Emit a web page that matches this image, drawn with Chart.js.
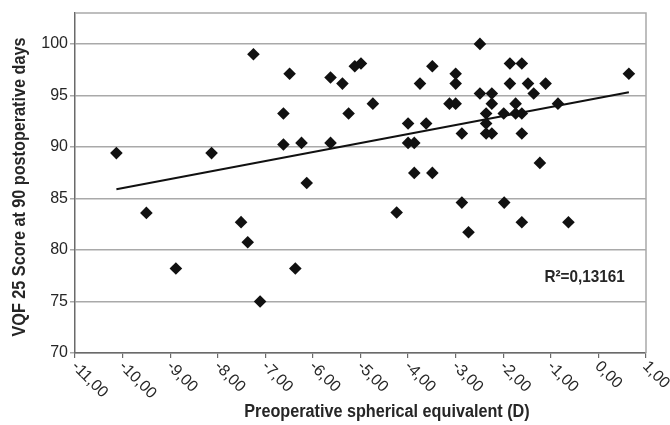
<!DOCTYPE html>
<html>
<head>
<meta charset="utf-8">
<script src="https://cdn.jsdelivr.net/npm/chart.js@4/dist/chart.umd.min.js"></script>
<style>
  html, body { margin: 0; padding: 0; background: #fff; }
  #wrap { width: 670px; height: 425px; }
</style>
</head>
<body>
<div id="wrap"><canvas id="chart"></canvas></div>
<script>
const preopSE = [
    -10.13, -9.5, -8.88, -8.13, -7.51, -7.37, -7.25, -7.11, -6.62, -6.62,
    -6.49, -6.37, -6.24, -6.13, -5.63, -5.63, -5.38, -5.25, -5.12, -4.99,
    -4.74, -4.24, -4.0, -4.0, -3.87, -3.87, -3.75, -3.62, -3.49, -3.49,
    -3.13, -3.0, -3.0, -3.0, -2.87, -2.87, -2.73, -2.49, -2.49, -2.36,
    -2.36, -2.36, -2.24, -2.24, -2.24, -1.99, -1.98, -1.86, -1.86, -1.74,
    -1.74, -1.61, -1.61, -1.61, -1.61, -1.48, -1.36, -1.23, -1.11, -0.85,
    -0.63, 0.64,
];
const vqfScore = [
    89.4, 83.6, 78.2, 89.4, 82.7, 80.75, 99.0, 75.0, 93.24, 90.23,
    97.1, 78.2, 90.39, 86.5, 96.74, 90.39, 96.15, 93.24, 97.83, 98.1,
    94.2, 83.63, 92.27, 90.39, 90.39, 87.48, 96.15, 92.27, 97.83, 87.48,
    94.2, 97.1, 96.15, 94.2, 91.3, 84.6, 81.72, 100.0, 95.18, 93.24,
    92.27, 91.3, 95.18, 94.2, 91.3, 93.24, 84.6, 98.1, 96.15, 94.2,
    93.24, 98.1, 93.24, 91.3, 82.69, 96.15, 95.18, 88.45, 96.15, 94.2,
    82.69, 97.1,
];

// trendline end points as drawn
const trendX = [-10.13, 0.64];
const trendY = [85.9, 95.3];

const xTicks = [-11, -10, -9, -8, -7, -6, -5, -4, -3, -2, -1, 0, 1];
const yTicks = [70, 75, 80, 85, 90, 95, 100];

const xTitle = 'Preoperative spherical equivalent (D)';
const yTitle = 'VQF 25 Score at 90 postoperative days';
const rSquared = 'R²=0,13161';

const PLAIN = '"Liberation Sans", Arial, sans-serif';
const TEXT = '#262626';
const GRID = '#a9a9a9';
const AXIS = '#6a6a6a';
const SQUEEZE = 0.9; // no narrow face installed, so squeeze the bold one

const fmt = (v) => v.toFixed(2).replace('.', ',');

function narrowText(ctx, text, x, y, angle) {
    ctx.save();
    ctx.translate(x, y);
    ctx.rotate(angle);
    ctx.scale(SQUEEZE, 1);
    ctx.fillText(text, 0, 0);
    ctx.restore();
}

const extras = {
    id: 'extras',
    afterDraw(chart) {
        const { ctx, chartArea: a, scales } = chart;
        const x = scales.x, y = scales.y;
        ctx.save();

        // top + right frame of the plot area
        ctx.strokeStyle = GRID;
        ctx.lineWidth = 1.5;
        ctx.beginPath();
        ctx.moveTo(a.left, a.top);
        ctx.lineTo(a.right, a.top);
        ctx.lineTo(a.right, a.bottom);
        ctx.stroke();

        // slanted x tick labels, starting at the tick and running down-right
        ctx.fillStyle = TEXT;
        ctx.font = '16px ' + PLAIN;
        ctx.textAlign = 'left';
        ctx.textBaseline = 'middle';
        x.ticks.forEach((t) => {
            const px = x.getPixelForValue(t.value);
            ctx.save();
            ctx.translate(px - 1, x.top + 11);
            ctx.rotate(Math.PI / 4);
            ctx.fillText(fmt(t.value), 0, 0);
            ctx.restore();
        });

        // axis titles
        ctx.font = 'bold 18px ' + PLAIN;
        ctx.textAlign = 'center';
        narrowText(ctx, xTitle, 387, 412, 0);
        narrowText(ctx, yTitle, 20, (a.top + a.bottom) / 2 + 4, -Math.PI / 2);

        // R² label
        ctx.font = 'bold 17px ' + PLAIN;
        narrowText(ctx, rSquared, x.getPixelForValue(-0.29), y.getPixelForValue(77.3), 0);
        ctx.restore();
    },
};

new Chart(document.getElementById('chart'), {
    type: 'scatter',
    data: {
        datasets: [
            {
                label: 'VQF 25',
                data: preopSE.map((v, i) => ({ x: v, y: vqfScore[i] })),
                pointStyle: 'rectRot',
                pointRadius: 6.3,
                backgroundColor: '#111',
                borderWidth: 0,
            },
            {
                label: 'Trend',
                type: 'line',
                data: trendX.map((v, i) => ({ x: v, y: trendY[i] })),
                borderColor: '#111',
                borderWidth: 2,
                pointRadius: 0,
                fill: false,
            },
        ],
    },
    options: {
        responsive: true,
        maintainAspectRatio: false,
        animation: false,
        layout: { padding: { top: 13, right: 24, left: 0, bottom: 0 } },
        plugins: { legend: { display: false }, tooltip: { enabled: false } },
        scales: {
            x: {
                type: 'linear',
                min: -11,
                max: 1,
                afterBuildTicks: (s) => { s.ticks = xTicks.map((v) => ({ value: v })); },
                afterFit: (s) => { s.height = 72; },
                ticks: { display: false },
                grid: { drawOnChartArea: false, drawTicks: true, tickLength: 5, color: AXIS, lineWidth: 1.2 },
                border: { color: AXIS, width: 1.5 },
            },
            y: {
                min: 70,
                max: 103,
                afterBuildTicks: (s) => { s.ticks = yTicks.map((v) => ({ value: v })); },
                afterFit: (s) => { s.width = 75; },
                ticks: { color: TEXT, font: { size: 16, family: PLAIN }, padding: 2 },
                grid: { color: GRID, lineWidth: 1.5, tickLength: 5 },
                border: { color: AXIS, width: 1.5 },
            },
        },
    },
    plugins: [extras],
});
</script>
</body>
</html>
